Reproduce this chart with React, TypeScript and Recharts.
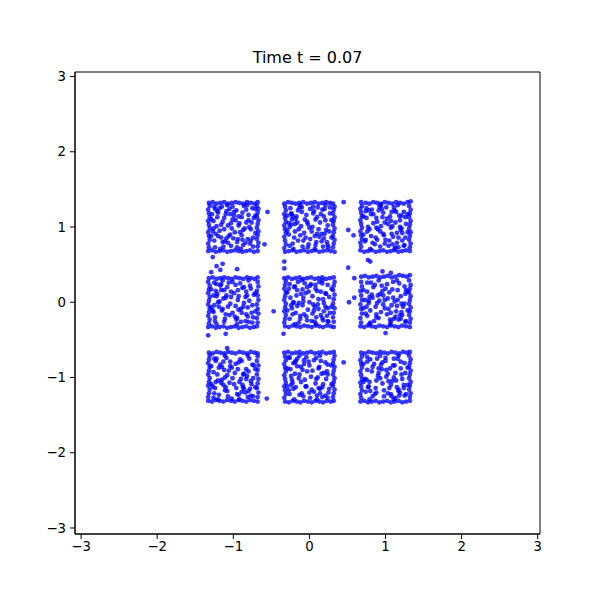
import { ScatterChart, Scatter, XAxis, YAxis, ReferenceArea } from "recharts";

// square centres (data units) and hand-read points in hundredths relative to each centre
const centers: Array<[number, number]> = [
  [-1, 1], [0, 1], [1, 1],
  [-1, 0], [0, 0], [1, 0],
  [-1, -1], [0, -1], [1, -1],
];

const edges: string[] = [
  "-32 32,-27 33,-22 31,-17 32,-12 33,-7 31,-2 32,3 33,8 32,13 31,18 33,23 32,28 31,32 33,-33 -32,-28 -31,-23 -33,-18 -32,-13 -31,-8 -33,-3 -32,2 -31,7 -32,12 -33,17 -32,22 -31,27 -33,32 -32,-32 -27,-33 -22,-31 -17,-32 -12,-33 -7,-31 -2,-32 3,-33 8,-31 13,-32 18,-33 23,-31 28,32 -26,33 -21,31 -16,32 -11,33 -6,31 -1,32 4,33 9,31 14,32 19,33 24,31 28",
  "-33 31,-28 33,-23 32,-18 31,-13 32,-8 33,-3 31,2 32,7 33,12 31,17 32,22 33,27 32,31 31,-32 -33,-27 -32,-22 -31,-17 -33,-12 -32,-7 -31,-2 -33,3 -32,8 -31,13 -33,18 -32,23 -31,28 -32,33 -33,-33 -28,-31 -23,-32 -18,-33 -13,-31 -8,-32 -3,-33 2,-31 7,-32 12,-33 17,-31 22,-32 27,31 -27,32 -22,33 -17,31 -12,32 -7,33 -2,31 3,32 8,33 13,31 18,32 23,33 27",
  "-32 33,-26 32,-21 31,-16 33,-11 32,-6 31,-1 33,4 32,9 31,14 33,19 32,24 31,29 33,33 34,-33 -31,-28 -33,-23 -32,-18 -31,-13 -33,-8 -32,-3 -31,2 -33,7 -32,12 -31,17 -33,22 -32,27 -31,32 -32,-32 -26,-33 -21,-31 -16,-32 -11,-33 -6,-31 -1,-32 4,-33 9,-31 14,-32 19,-33 24,-31 28,32 -27,33 -22,31 -17,32 -12,33 -7,31 -2,32 3,33 8,31 13,32 18,33 23,31 28",
  "-32 32,-27 33,-22 31,-17 32,-12 33,-7 32,-2 31,3 33,8 32,13 31,18 33,23 32,28 31,32 33,-33 -33,-28 -32,-23 -34,-18 -33,-13 -32,-8 -34,-3 -33,2 -32,7 -34,12 -33,17 -32,22 -34,27 -33,31 -32,-32 -28,-31 -23,-33 -18,-32 -13,-31 -8,-33 -3,-32 2,-31 7,-33 12,-32 17,-31 22,-33 27,32 -27,31 -21,33 -15,32 -9,31 -3,33 3,32 9,31 15,33 21,32 27",
  "-33 32,-28 33,-23 31,-18 32,-13 33,-8 31,-3 32,2 33,7 31,12 32,17 33,22 31,27 32,32 33,-32 -32,-27 -33,-22 -31,-17 -32,-12 -33,-7 -31,-2 -32,3 -33,8 -31,13 -32,18 -33,23 -31,28 -32,32 -33,-33 -27,-32 -22,-31 -17,-33 -12,-32 -7,-31 -2,-33 3,-32 8,-31 13,-33 18,-32 23,-31 28,32 -26,31 -20,32 -14,33 -8,31 -2,32 4,33 10,31 16,32 22,33 27",
  "-32 34,-27 35,-22 33,-17 34,-12 35,-7 33,-2 34,3 35,8 33,13 34,18 36,23 35,28 34,32 36,-33 -32,-28 -33,-23 -31,-18 -32,-13 -33,-8 -31,-3 -32,2 -33,7 -31,12 -32,17 -33,22 -31,27 -32,32 -33,-32 -27,-33 -21,-31 -15,-32 -9,-33 -3,-31 3,-32 9,-33 15,-31 21,-32 27,32 -27,33 -22,31 -17,32 -12,33 -7,31 -2,32 3,33 8,31 13,32 18,33 23,31 29",
  "-32 33,-27 32,-22 34,-17 33,-12 32,-7 34,-2 33,3 32,8 34,13 33,18 32,23 34,28 33,32 32,-33 -31,-28 -32,-23 -30,-18 -31,-13 -32,-8 -30,-3 -31,2 -32,7 -30,12 -31,17 -32,22 -30,27 -31,32 -32,-33 -26,-32 -21,-31 -16,-33 -11,-32 -6,-31 -1,-33 4,-32 9,-31 14,-33 19,-32 24,-31 29,32 -26,33 -20,31 -14,32 -8,33 -2,31 4,32 10,33 16,31 22,32 28",
  "-33 33,-28 34,-23 32,-18 33,-13 34,-8 32,-3 33,2 34,7 32,12 33,17 34,22 32,27 33,32 34,-32 -32,-27 -33,-22 -31,-17 -32,-12 -33,-7 -31,-2 -32,3 -33,8 -31,13 -32,18 -33,23 -31,28 -32,32 -31,-33 -27,-31 -22,-32 -17,-33 -12,-31 -7,-32 -2,-33 3,-31 8,-32 13,-33 18,-31 23,-32 28,31 -26,32 -21,33 -16,31 -11,32 -6,33 -1,31 4,32 9,33 14,31 19,32 24,33 29",
  "-32 33,-27 32,-22 34,-17 33,-12 32,-7 34,-2 33,3 32,8 34,13 33,18 32,23 34,28 33,32 34,-33 -32,-28 -31,-23 -33,-18 -32,-13 -31,-8 -33,-3 -32,2 -31,7 -33,12 -32,17 -31,22 -33,27 -32,32 -31,-32 -27,-33 -22,-31 -17,-32 -12,-33 -7,-31 -2,-32 3,-33 8,-31 13,-32 18,-33 23,-31 28,32 -26,33 -21,31 -16,32 -11,33 -6,31 -1,32 4,33 9,31 14,32 19,33 24,31 29",
];

const inner: string[] = [
  "-21 21,-5 24,12 19,25 25,-26 8,-12 12,3 9,17 6,-18 -5,-2 -2,9 -7,23 -3,-25 -18,-9 -15,5 -20,19 -16,-15 27,1 15,14 28,-28 17,-7 2,8 5,27 12,-20 -12,-3 -25,13 -24,26 -14,-13 -26,-27 -6,20 16,-10 17,4 22,-16 3,11 -11,-4 -10,-22 1,22 -22,7 14,-1 27,-14 -20,15 -2,-24 24,0 -15",
  "-24 18,-10 26,6 21,20 24,-19 4,-6 10,10 13,24 2,-27 -10,-14 -3,3 -6,16 -9,-22 -22,-8 -18,8 -24,23 -20,-2 4,-17 14,14 6,27 18,-12 -11,1 -16,18 -26,-25 25,5 27,-4 16,12 -3,-20 -14,26 -6,-9 -26,15 17,-26 0,7 -12,21 9,-15 22,0 -1,11 26,-1 -23,-23 10,19 -15",
  "-18 23,-3 19,11 26,24 20,-25 12,-11 7,2 11,19 9,-21 -3,-7 -6,7 -1,22 -8,-27 -19,-14 -23,0 -17,15 -21,-8 27,6 14,17 -14,27 4,-16 17,-2 -11,13 -27,-23 0,9 1,25 -24,-5 24,-19 -12,18 15,4 -25,-11 -17,14 20,-26 21,-1 6,21 -2,-12 -1,8 -9,26 13,-6 1,12 22",
  "-22 24,-8 20,9 25,23 18,-26 9,-13 5,1 12,16 7,-19 -6,-4 -2,10 -9,25 -4,-24 -20,-10 -16,4 -23,19 -19,-16 16,-1 -14,14 -1,27 10,-6 26,6 3,-27 -11,20 -26,-12 -26,-20 0,12 19,-3 7,24 -14,-14 -9,7 -10,-23 15,-9 9,3 -5,17 14,-17 22,5 -21,25,-25 -4",
  "-20 20,-6 25,8 18,24 23,-25 6,-11 11,4 8,18 4,-23 -8,-9 -4,6 -11,21 -6,-26 -22,-12 -18,3 -25,17 -21,-15 27,-1 14,13 27,27 -14,-18 -14,0 0,11 -3,-4 -19,22 11,-27 18,9 -20,-8 1,15 14,-14 -27,24 -25,2 24,-21 -1,-3 20,19 -12,-16 -5,7 -6",
  "-19 26,-5 22,10 27,25 21,-24 14,-10 9,5 13,20 8,-22 -1,-8 2,8 -4,23 -6,-26 -15,-12 -20,2 -16,17 -23,-15 -25,-1 -8,14 -12,27 -25,-16 20,0 18,12 1,-27 3,19 -17,-6 -13,26 11,-13 -6,3 5,-20 -27,7 -26,16 16,-3 9,21 -2,-21 7,11 -22",
  "-23 22,-9 26,7 20,21 25,-26 7,-12 10,2 6,17 11,-20 -4,-5 -7,10 -2,24 -9,-25 -21,-11 -17,5 -22,20 -18,-17 17,-2 13,13 -13,27 16,-7 -25,-15 -3,4 -14,-22 25,18 2,-1 -1,9 24,-27 -12,23 -24,-13 -10,14 5,-4 21,-19 -23,11 -19,26 -1,-8 3",
  "-21 19,-7 23,9 26,24 17,-25 11,-13 4,4 9,19 6,-22 -7,-6 -3,8 -8,22 -2,-27 -17,-10 -21,6 -19,21 -24,-16 25,0 16,15 22,-18 -13,1 -27,14 -15,-3 8,26 -15,-24 2,11 0,-11 14,-27 27,17 -26,-4 -12,-8 -25,13 14,24 4,-19 20,-14 -1",
  "-20 24,-4 20,11 25,25 19,-24 10,-9 6,6 12,21 4,-21 -6,-7 -1,9 -5,24 -10,-26 -19,-13 -14,3 -21,18 -24,-15 18,1 1,15 -13,-27 -2,-2 -17,12 16,-11 25,27 -22,-17 -25,7 -10,-5 11,20 12,-23 -13,13 -27,0 26,-12 -4,3 5,17 -18",
];

const inner2: string[] = [
  "-29 10,-29 -12,29 -8,29 15,-8 29,10 -29,-17 -29,18 29,-24 -27,26 -26,-14 7,-1 10,11 13,21 0,-20 19,-6 -12,6 -16,16 -21,-23 -9,-11 -19,2 -7,24 6,-4 17,13 -4,-26 -2,-18 25,1 20,17 23,-12 -3,7 2,23 -18,-21 13,5 -27,-9 21,20 9,-7 -21,12 -17,-25 27,29 24,-3 5,-16 -14",
  "-29 -5,-29 15,29 -14,29 9,-12 29,7 -29,-21 -29,21 29,25 -27,-26 -25,-18 11,-3 7,9 -20,19 14,-15 -18,-7 -8,5 18,13 -13,-24 3,1 24,22 -4,-10 20,10 -9,-2 -27,16 -19,-19 -6,4 0,24 -24,-13 26,8 10,27 26,-5 -14,17 23,-23 17,-11 1,20 -9,-22 14,-27 5,-16 6",
  "-29 -10,-29 14,29 -7,29 17,-6 29,12 -29,-20 -29,16 29,-25 25,24 -25,-16 5,-4 13,10 -13,20 -4,-13 -14,-1 -22,8 20,21 15,-24 -6,3 4,26 -14,-9 22,13 6,-19 17,5 -18,-7 -26,19 0,-26 -17,15 -8,1 26,-12 12,22 -18,9 -23,-22 22,-3 -9,17 -27,-10 -3,7 8,-17 -21",
  "-29 -7,-29 17,29 -12,29 12,-14 29,5 -29,-22 -29,20 29,-25 26,25 -27,-15 -11,-3 14,11 -14,21 2,-21 11,-7 -6,6 16,17 -16,-26 -13,2 -19,22 22,-10 6,13 -6,-1 27,16 -25,-18 1,7 8,26 -20,-11 -22,18 9,-24 -25,3 23,-16 24,10 -26,-5 -17,19 -7,-12 16,14 20,-22 8",
  "-29 -11,-29 13,29 -6,29 18,-10 29,9 -29,-19 -29,17 29,-26 24,25 -26,-17 9,-2 -10,10 15,19 -1,-22 -16,-8 6,5 -3,15 -17,-24 -4,1 22,23 -18,-12 -22,12 4,-5 12,17 25,-19 21,7 -26,26 7,-14 -1,4 -15,21 12,-9 17,12 -9,-21 0,24 -8,-3 -24,18 -24,-16 16,8 23,-7 -16",
  "-29 -8,-29 16,29 -11,29 14,-9 29,6 -29,-21 -29,15 29,-24 26,26 -26,-17 6,-3 -3,9 17,21 -13,-20 -11,-7 11,4 -9,16 3,-25 -6,2 24,22 -17,-12 -16,13 -19,-4 15,18 25,-18 10,6 -23,25 -2,-14 23,10 6,-24 -18,-9 -21,20 -22,-1 3,27 16,-11 -1,15 -5,-22 2,7 -14",
  "-29 -9,-29 15,29 -13,29 11,-11 29,8 -29,-20 -29,19 29,-25 25,26 -25,-16 -7,-4 15,12 -10,20 8,-21 4,-8 -18,6 11,16 -20,-24 -14,1 -9,23 -5,-13 21,11 22,-2 -28,17 -2,-19 13,7 -23,25 17,-11 0,3 18,22 -15,-15 14,13 4,-23 -6,-6 9,19 -26,-26 -27,8 -6,-10 -13,14 -15",
  "-29 -12,-29 12,29 -9,29 16,-13 29,10 -29,-20 -29,14 29,-26 26,24 -27,-19 5,-5 -12,12 12,18 -9,-23 -3,-9 10,3 -16,14 -21,-26 -22,-1 21,21 20,-11 -6,9 -2,-4 27,17 -13,-16 15,6 23,25 -20,-13 -23,2 1,23 8,-21 -15,10 -24,-7 18,16 5,-18 22,-24 -10,0 -20,12 -14",
  "-29 -6,-29 18,29 -10,29 13,-7 29,11 -29,-21 -29,17 29,-24 27,25 -24,-18 8,-4 -8,10 16,22 -2,-22 -12,-9 12,5 -14,17 -16,-25 -3,0 22,20 21,-12 -20,13 6,-2 -25,16 25,-17 14,7 -22,24 -14,-10 2,4 -5,26 6,-14 -22,11 0,-24 21,-6 17,19 -20,1 10,14 -4,-20 -18,8 -25",
];

// loose particles between the squares (absolute data coordinates)
const strays =
  "-0.55 1.20,-0.59 0.77,-1.27 0.60,-1.22 0.48,-1.14 0.51,-1.17 0.43,-1.29 0.40,-0.95 0.44,-0.33 0.54,-0.33 0.45,0.45 1.33,0.51 0.96,0.58 0.89,0.77 0.56,0.80 0.54,0.51 0.46,0.59 0.32,0.52 0.00,0.59 0.06,-0.47 -0.12,-1.33 -0.44,-1.10 -0.42,-0.34 -0.42,1.00 -0.41,0.45 -0.80,-0.56 -1.28,-1.08 -0.61,0.96 0.41,1.07 0.39";

const ticks = [-3, -2, -1, 0, 1, 2, 3];
const xDomain: [number, number] = [-3.08, 3.03];
const yDomain: [number, number] = [-3.08, 3.06];

function parsePairs(s: string, cx: number, cy: number, scale: number) {
  return s
    .split(",")
    .map((p) => p.trim().split(/\s+/).map(Number))
    .filter((p) => p.length === 2 && !isNaN(p[0]) && !isNaN(p[1]))
    .map(([a, b]) => ({ x: cx + a * scale, y: cy + b * scale }));
}

const points = [
  ...centers.flatMap(([cx, cy], i) => [
    ...parsePairs(edges[i], cx, cy, 0.01),
    ...parsePairs(inner[i], cx, cy, 0.01),
    ...parsePairs(inner2[i], cx, cy, 0.01),
  ]),
  ...parsePairs(strays, 0, 0, 1),
];

const fmt = (v: number) => (v < 0 ? "\u2212" + Math.abs(v) : String(v));

const Dot = (props: any) => (
  <circle cx={props.cx} cy={props.cy} r={2.4} fill="#0000ff" fillOpacity={0.78} />
);

export default function App() {
  const tick = { fontSize: 13.3, fill: "#000", fontFamily: "DejaVu Sans" };
  return (
    <div style={{ position: "absolute", left: 0, top: 0, width: 600, height: 600, background: "#fff" }}>
      <div
        style={{
          position: "absolute",
          left: 75,
          width: 465,
          top: 48,
          textAlign: "center",
          fontFamily: "DejaVu Sans",
          fontSize: 16,
          color: "#000",
        }}
      >
        Time t = 0.07
      </div>
      <ScatterChart width={600} height={600} margin={{ top: 72, right: 60, bottom: 36, left: 35 }}>
        <XAxis
          type="number"
          dataKey="x"
          domain={xDomain}
          ticks={ticks}
          tickFormatter={fmt}
          allowDataOverflow
          height={30}
          tick={tick}
          tickSize={5}
          tickMargin={3}
          stroke="#000"
        />
        <YAxis
          type="number"
          dataKey="y"
          domain={yDomain}
          ticks={ticks}
          tickFormatter={fmt}
          allowDataOverflow
          width={40}
          tick={tick}
          tickSize={5}
          tickMargin={4}
          stroke="#000"
        />
        <ReferenceArea
          x1={xDomain[0]}
          x2={xDomain[1]}
          y1={yDomain[0]}
          y2={yDomain[1]}
          fill="none"
          stroke="#000"
          strokeWidth={1}
          ifOverflow="visible"
        />
        <Scatter data={points} shape={Dot} isAnimationActive={false} />
      </ScatterChart>
    </div>
  );
}
